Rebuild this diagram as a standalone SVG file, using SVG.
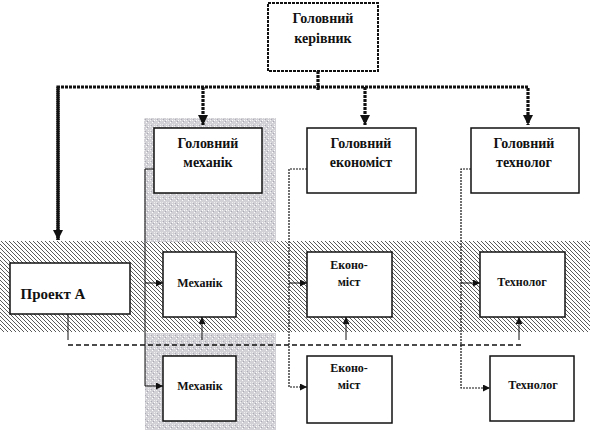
<svg xmlns="http://www.w3.org/2000/svg" width="590" height="430" viewBox="0 0 590 430">
<defs>
<pattern id="hatch" patternUnits="userSpaceOnUse" width="4" height="4">
<rect width="4" height="4" fill="#ffffff"/>
<path d="M-1,-1 L5,5 M-1,3 L1,5 M3,-1 L5,1" stroke="#5a5a5a" stroke-width="1"/>
</pattern>
<pattern id="tex" patternUnits="userSpaceOnUse" width="6" height="6">
<rect width="6" height="6" fill="#d2d2d6"/>
<rect x="0" y="0" width="1" height="1" fill="#f4f4f4"/>
<rect x="2" y="2" width="1" height="1" fill="#ffffff"/>
<rect x="4" y="4" width="1" height="1" fill="#f0f0f0"/>
<rect x="4" y="0" width="1" height="1" fill="#ffffff"/>
<rect x="0" y="4" width="1" height="1" fill="#ececec"/>
<rect x="3" y="1" width="1" height="1" fill="#a8a8b2"/>
<rect x="1" y="5" width="1" height="1" fill="#acacb6"/>
</pattern>
<marker id="big" markerUnits="userSpaceOnUse" markerWidth="12" markerHeight="12" refX="10" refY="5" orient="auto">
<path d="M0,0 L10,5 L0,10 Z" fill="#111"/>
</marker>
<marker id="small" markerUnits="userSpaceOnUse" markerWidth="8" markerHeight="8" refX="7" refY="3.5" orient="auto">
<path d="M0,0 L7,3.5 L0,7 Z" fill="#111"/>
</marker>
<style>
.box{fill:#fff;stroke:#111;stroke-width:1.5}
.t{font-family:"Liberation Serif","Times New Roman",serif;font-weight:bold;fill:#111;text-anchor:middle}
.h{font-size:14px}
.s{font-size:12px}
.heavy{fill:none;stroke:#111;stroke-width:3.2;stroke-dasharray:3,1}
.thin{fill:none;stroke:#111;stroke-width:1}
.dot{fill:none;stroke:#111;stroke-width:1.2;stroke-dasharray:2,1}
.dash{fill:none;stroke:#111;stroke-width:1.4;stroke-dasharray:5,3}
</style>
</defs>

<g id="backgrounds">
<rect x="0" y="241" width="590" height="91" fill="url(#hatch)"/>
<rect x="144" y="118" width="132" height="124" fill="url(#tex)"/>
<rect x="145" y="333" width="131" height="97" fill="url(#tex)"/>
</g>

<g id="connectors">
<path class="heavy" d="M318,71 V91"/>
<path class="heavy" d="M58,240 V87 H528 V125" marker-end="url(#big)"/>
<path class="heavy" d="M203,87 V125" marker-end="url(#big)"/>
<path class="heavy" d="M365,87 V125" marker-end="url(#big)"/>
<path class="heavy" d="M58,87 V240" marker-end="url(#big)"/>

<path class="thin" d="M154,169 H145 V386 H163" marker-end="url(#small)"/>
<path class="thin" d="M145,283 H163" marker-end="url(#small)"/>
<path class="dot" d="M307,169 H289 V387 H307" marker-end="url(#small)"/>
<path class="thin" d="M289,283 H307" marker-end="url(#small)"/>
<path class="dot" d="M471,169 H461 V388 H490" marker-end="url(#small)"/>
<path class="thin" d="M461,283 H480" marker-end="url(#small)"/>

<path class="thin" d="M68,314 V340"/>
<path class="dash" d="M68,345 H523"/>
<path class="thin" d="M202,340 V317" marker-end="url(#small)"/>
<path class="thin" d="M346,340 V317" marker-end="url(#small)"/>
<path class="thin" d="M519,340 V317" marker-end="url(#small)"/>
</g>

<g id="n-kerivnyk">
<rect class="box" x="268" y="3" width="110" height="68" stroke-dasharray="3,1" style="stroke-width:2"/>
<text class="t h" x="323" y="23">Головний</text>
<text class="t h" x="323" y="43">керівник</text>
</g>
<g id="n-mekhanik-head">
<rect class="box" x="154" y="128" width="108" height="65"/>
<text class="t h" x="208" y="148">Головний</text>
<text class="t h" x="208" y="167">механік</text>
</g>
<g id="n-ekonomist-head">
<rect class="box" x="307" y="128" width="109" height="65"/>
<text class="t h" x="361" y="148">Головний</text>
<text class="t h" x="361" y="167">економіст</text>
</g>
<g id="n-tekhnolog-head">
<rect class="box" x="471" y="128" width="108" height="65"/>
<text class="t h" x="524" y="148">Головний</text>
<text class="t h" x="524" y="167">технолог</text>
</g>
<g id="n-proekt">
<rect class="box" x="10" y="263" width="120" height="51"/>
<text class="t" x="53" y="299" style="font-size:15px">Проект А</text>
</g>
<g id="n-mekhanik-1">
<rect class="box" x="163" y="252" width="73" height="65"/>
<text class="t s" x="200" y="287">Механік</text>
</g>
<g id="n-mekhanik-2">
<rect class="box" x="163" y="356" width="73" height="65"/>
<text class="t s" x="200" y="390">Механік</text>
</g>
<g id="n-ekonomist-1">
<rect class="box" x="307" y="252" width="85" height="65"/>
<text class="t s" x="349" y="269">Еконо-</text>
<text class="t s" x="349" y="286">міст</text>
</g>
<g id="n-ekonomist-2">
<rect class="box" x="307" y="356" width="85" height="67"/>
<text class="t s" x="349" y="372">Еконо-</text>
<text class="t s" x="349" y="389">міст</text>
</g>
<g id="n-tekhnolog-1">
<rect class="box" x="480" y="252" width="85" height="65"/>
<text class="t s" x="522" y="286">Технолог</text>
</g>
<g id="n-tekhnolog-2">
<rect class="box" x="490" y="356" width="84" height="65"/>
<text class="t s" x="533" y="389">Технолог</text>
</g>
</svg>
